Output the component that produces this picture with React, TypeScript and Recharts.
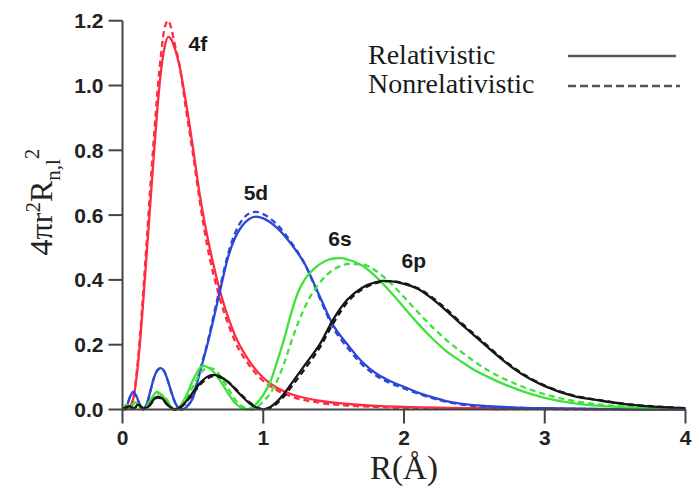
import React from "react";
import { LineChart, Line, XAxis, YAxis, ReferenceDot } from "recharts";

// radial grids (Å) and 4πr²R² values
const R_4F = [0, 0.04, 0.06, 0.08, 0.1, 0.125, 0.15, 0.175, 0.2, 0.225, 0.25, 0.275, 0.3, 0.325, 0.35, 0.375, 0.4, 0.45, 0.5, 0.55, 0.6, 0.65, 0.7, 0.75, 0.8, 0.9, 1.0, 1.1, 1.2, 1.4, 1.6, 1.8, 2.0, 2.5, 3.0, 4.0];
const V_4F_REL = [0, 0.002, 0.01, 0.04, 0.1, 0.21, 0.35, 0.5, 0.65, 0.8, 0.94, 1.05, 1.12, 1.15, 1.14, 1.11, 1.07, 0.95, 0.81, 0.66, 0.54, 0.44, 0.355, 0.285, 0.228, 0.15, 0.098, 0.066, 0.047, 0.027, 0.017, 0.011, 0.008, 0.004, 0.002, 0];
const V_4F_NONREL = [0, 0.003, 0.012, 0.045, 0.11, 0.23, 0.38, 0.54, 0.7, 0.85, 0.99, 1.1, 1.18, 1.2, 1.17, 1.12, 1.075, 0.93, 0.79, 0.64, 0.51, 0.41, 0.33, 0.265, 0.21, 0.137, 0.088, 0.059, 0.04, 0.021, 0.012, 0.008, 0.005, 0.002, 0.001, 0];

const R_5D = [0, 0.03, 0.05, 0.075, 0.1, 0.125, 0.145, 0.175, 0.2, 0.225, 0.25, 0.27, 0.3, 0.325, 0.35, 0.375, 0.4, 0.42, 0.45, 0.5, 0.55, 0.6, 0.65, 0.7, 0.75, 0.8, 0.85, 0.9, 0.95, 1.0, 1.1, 1.2, 1.3, 1.4, 1.5, 1.6, 1.7, 1.8, 1.9, 2.0, 2.1, 2.2, 2.3, 2.4, 2.6, 2.8, 3.0, 3.5, 4.0];
const V_5D_REL = [0, 0.01, 0.035, 0.054, 0.04, 0.012, 0, 0.02, 0.06, 0.1, 0.123, 0.128, 0.115, 0.085, 0.05, 0.02, 0.004, 0, 0.006, 0.035, 0.115, 0.195, 0.285, 0.38, 0.47, 0.53, 0.567, 0.588, 0.595, 0.59, 0.56, 0.51, 0.445, 0.35, 0.258, 0.2, 0.148, 0.112, 0.088, 0.07, 0.052, 0.038, 0.026, 0.018, 0.01, 0.006, 0.004, 0.001, 0];
const V_5D_NONREL = [0, 0.01, 0.035, 0.052, 0.04, 0.012, 0, 0.02, 0.06, 0.1, 0.122, 0.127, 0.115, 0.085, 0.05, 0.02, 0.004, 0, 0.007, 0.04, 0.12, 0.2, 0.295, 0.39, 0.48, 0.545, 0.585, 0.605, 0.61, 0.603, 0.57, 0.515, 0.445, 0.345, 0.25, 0.19, 0.14, 0.105, 0.082, 0.065, 0.049, 0.035, 0.024, 0.016, 0.008, 0.005, 0.003, 0.001, 0];

const R_6S = [0, 0.03, 0.05, 0.09, 0.15, 0.2, 0.245, 0.3, 0.37, 0.4, 0.45, 0.5, 0.55, 0.57, 0.6, 0.65, 0.7, 0.75, 0.8, 0.85, 0.88, 0.92, 1.0, 1.05, 1.1, 1.15, 1.2, 1.25, 1.3, 1.35, 1.4, 1.45, 1.5, 1.55, 1.6, 1.7, 1.8, 1.9, 2.0, 2.1, 2.2, 2.3, 2.4, 2.5, 2.6, 2.7, 2.8, 2.9, 3.0, 3.2, 3.4, 3.6, 3.8, 4.0];
const V_6S_REL = [0, 0.015, 0.005, 0.022, 0, 0.03, 0.054, 0.035, 0, 0.006, 0.04, 0.09, 0.128, 0.135, 0.132, 0.115, 0.085, 0.05, 0.02, 0.004, 0, 0.006, 0.045, 0.085, 0.15, 0.22, 0.3, 0.365, 0.405, 0.43, 0.448, 0.46, 0.466, 0.467, 0.463, 0.445, 0.41, 0.365, 0.315, 0.265, 0.22, 0.18, 0.15, 0.122, 0.1, 0.08, 0.063, 0.048, 0.036, 0.02, 0.011, 0.006, 0.003, 0.002];
const V_6S_NONREL = [0, 0.012, 0.004, 0.02, 0, 0.025, 0.05, 0.038, 0.002, 0.004, 0.03, 0.07, 0.11, 0.12, 0.128, 0.125, 0.1, 0.065, 0.03, 0.01, 0.003, 0, 0.025, 0.05, 0.09, 0.145, 0.21, 0.27, 0.32, 0.36, 0.39, 0.415, 0.432, 0.443, 0.449, 0.448, 0.428, 0.392, 0.347, 0.3, 0.255, 0.215, 0.18, 0.148, 0.12, 0.097, 0.078, 0.061, 0.047, 0.027, 0.015, 0.008, 0.004, 0.002];

const R_6P = [0, 0.05, 0.08, 0.11, 0.15, 0.18, 0.22, 0.25, 0.28, 0.32, 0.37, 0.42, 0.47, 0.52, 0.57, 0.62, 0.65, 0.7, 0.75, 0.8, 0.85, 0.9, 0.95, 1.0, 1.05, 1.1, 1.15, 1.2, 1.3, 1.4, 1.5, 1.6, 1.7, 1.8, 1.85, 1.9, 2.0, 2.1, 2.2, 2.3, 2.4, 2.5, 2.6, 2.7, 2.8, 2.9, 3.0, 3.2, 3.4, 3.6, 3.8, 4.0];
const V_6P_REL = [0, 0.01, 0.003, 0.015, 0.004, 0.008, 0.03, 0.04, 0.035, 0.015, 0, 0.01, 0.035, 0.065, 0.09, 0.105, 0.107, 0.1, 0.085, 0.063, 0.04, 0.02, 0.006, 0, 0.008, 0.025, 0.05, 0.08, 0.14, 0.2, 0.28, 0.34, 0.375, 0.393, 0.397, 0.396, 0.388, 0.372, 0.342, 0.305, 0.266, 0.228, 0.19, 0.153, 0.12, 0.093, 0.072, 0.042, 0.027, 0.015, 0.008, 0.004];
const V_6P_NONREL = [0, 0.009, 0.003, 0.013, 0.004, 0.007, 0.027, 0.037, 0.033, 0.014, 0, 0.009, 0.032, 0.06, 0.085, 0.1, 0.103, 0.098, 0.085, 0.065, 0.043, 0.023, 0.008, 0.001, 0.005, 0.02, 0.042, 0.07, 0.128, 0.19, 0.268, 0.332, 0.37, 0.39, 0.395, 0.396, 0.39, 0.374, 0.346, 0.31, 0.27, 0.232, 0.194, 0.156, 0.123, 0.096, 0.074, 0.044, 0.028, 0.016, 0.009, 0.004];

const X_TICKS = [0, 1, 2, 3, 4];
const Y_TICKS = [0, 0.2, 0.4, 0.6, 0.8, 1.0, 1.2];

// orbital tags: name, position (r, value)
const ORBITAL_NAMES = ["4f", "5d", "6s", "6p"];
const TAG_R = [0.536, 0.948, 1.545, 2.07];
const TAG_V = [1.131, 0.671, 0.529, 0.461];

const RED = "#ff2b40";
const BLUE = "#2e46d6";
const GREEN = "#3fe23a";
const BLACK = "#161616";
const AXIS = "#444";

const zip = (r: number[], v: number[]) => r.map((x, i) => ({ r: x, v: v[i] }));

const series = [
  { id: "4f-nr", data: zip(R_4F, V_4F_NONREL), color: RED, dashed: true },
  { id: "4f-r", data: zip(R_4F, V_4F_REL), color: RED, dashed: false },
  { id: "5d-nr", data: zip(R_5D, V_5D_NONREL), color: BLUE, dashed: true },
  { id: "5d-r", data: zip(R_5D, V_5D_REL), color: BLUE, dashed: false },
  { id: "6s-nr", data: zip(R_6S, V_6S_NONREL), color: GREEN, dashed: true },
  { id: "6s-r", data: zip(R_6S, V_6S_REL), color: GREEN, dashed: false },
  { id: "6p-nr", data: zip(R_6P, V_6P_NONREL), color: BLACK, dashed: true },
  { id: "6p-r", data: zip(R_6P, V_6P_REL), color: BLACK, dashed: false },
];

const tickFont = {
  fontFamily: "'Liberation Sans', Arial, sans-serif",
  fontWeight: 700,
  fontSize: 21,
  fill: "#222",
};
const serif = "'Liberation Serif', 'Times New Roman', serif";

const YTitle = () => (
  <text
    transform="translate(52,202) rotate(-90)"
    textAnchor="middle"
    fontFamily={serif}
    fontSize={32}
    fill="#222">
    4πr<tspan dy={-12} fontSize={21}>2</tspan>
    <tspan dy={12}>R</tspan>
    <tspan dy={8} fontSize={21}>n,l</tspan>
    <tspan dy={-21} fontSize={21}>2</tspan>
  </text>
);

const XTitle = (props: any) => {
  const vb = props.viewBox || { x: 122.5, y: 409.5, width: 563 };
  return (
    <text
      x={vb.x + vb.width / 2}
      y={vb.y + 69}
      textAnchor="middle"
      fontFamily={serif}
      fontSize={33}
      fill="#222">
      R(Å)
    </text>
  );
};

const LegendBox = () => (
  <svg
    width={330}
    height={75}
    style={{ position: "absolute", left: 360, top: 30 }}>
    <text x={8} y={34} fontFamily={serif} fontSize={28} fill="#1a1a1a">
      Relativistic
    </text>
    <line x1={208} x2={316} y1={26} y2={26} stroke="#555" strokeWidth={2.5} />
    <text x={8} y={63} fontFamily={serif} fontSize={28} fill="#1a1a1a">
      Nonrelativistic
    </text>
    <line
      x1={208}
      x2={320}
      y1={56}
      y2={56}
      stroke="#555"
      strokeWidth={2.5}
      strokeDasharray="8 4"
    />
  </svg>
);

export default function App() {
  return (
    <div
      style={{
        position: "absolute",
        left: 0,
        top: 0,
        width: 695,
        height: 493,
        background: "#fff",
      }}>
      <LineChart
        width={695}
        height={493}
        margin={{ top: 20.7, right: 9.5, bottom: 0, left: 0 }}>
        <XAxis
          type="number"
          dataKey="r"
          domain={[0, 4]}
          ticks={X_TICKS}
          height={83.5}
          tickSize={14}
          tickMargin={7}
          tick={tickFont}
          axisLine={{ stroke: AXIS, strokeWidth: 2 }}
          tickLine={{ stroke: AXIS, strokeWidth: 2 }}
          allowDuplicatedCategory={false}
          label={{ content: (p: any) => <XTitle {...p} /> }}
        />
        <YAxis
          type="number"
          domain={[0, 1.2]}
          ticks={Y_TICKS}
          width={122.5}
          tickSize={14}
          tickMargin={5}
          tick={tickFont}
          tickFormatter={(v: number) => v.toFixed(1)}
          axisLine={{ stroke: AXIS, strokeWidth: 2 }}
          tickLine={{ stroke: AXIS, strokeWidth: 2 }}
          label={{ content: () => <YTitle /> }}
        />
        {series.map((s) => (
          <Line
            key={s.id}
            data={s.data}
            dataKey="v"
            type="monotone"
            stroke={s.color}
            strokeWidth={2.3}
            strokeDasharray={s.dashed ? "6 4" : undefined}
            dot={false}
            activeDot={false}
            isAnimationActive={false}
          />
        ))}
        {ORBITAL_NAMES.map((name, i) => (
          <ReferenceDot
            key={name}
            x={TAG_R[i]}
            y={TAG_V[i]}
            r={0}
            fill="none"
            stroke="none"
            label={{
              value: name,
              position: "center",
              fontFamily: "'Liberation Sans', Arial, sans-serif",
              fontWeight: 700,
              fontSize: 21,
              fill: "#1a1a1a",
            }}
          />
        ))}
      </LineChart>
      <LegendBox />
    </div>
  );
}
